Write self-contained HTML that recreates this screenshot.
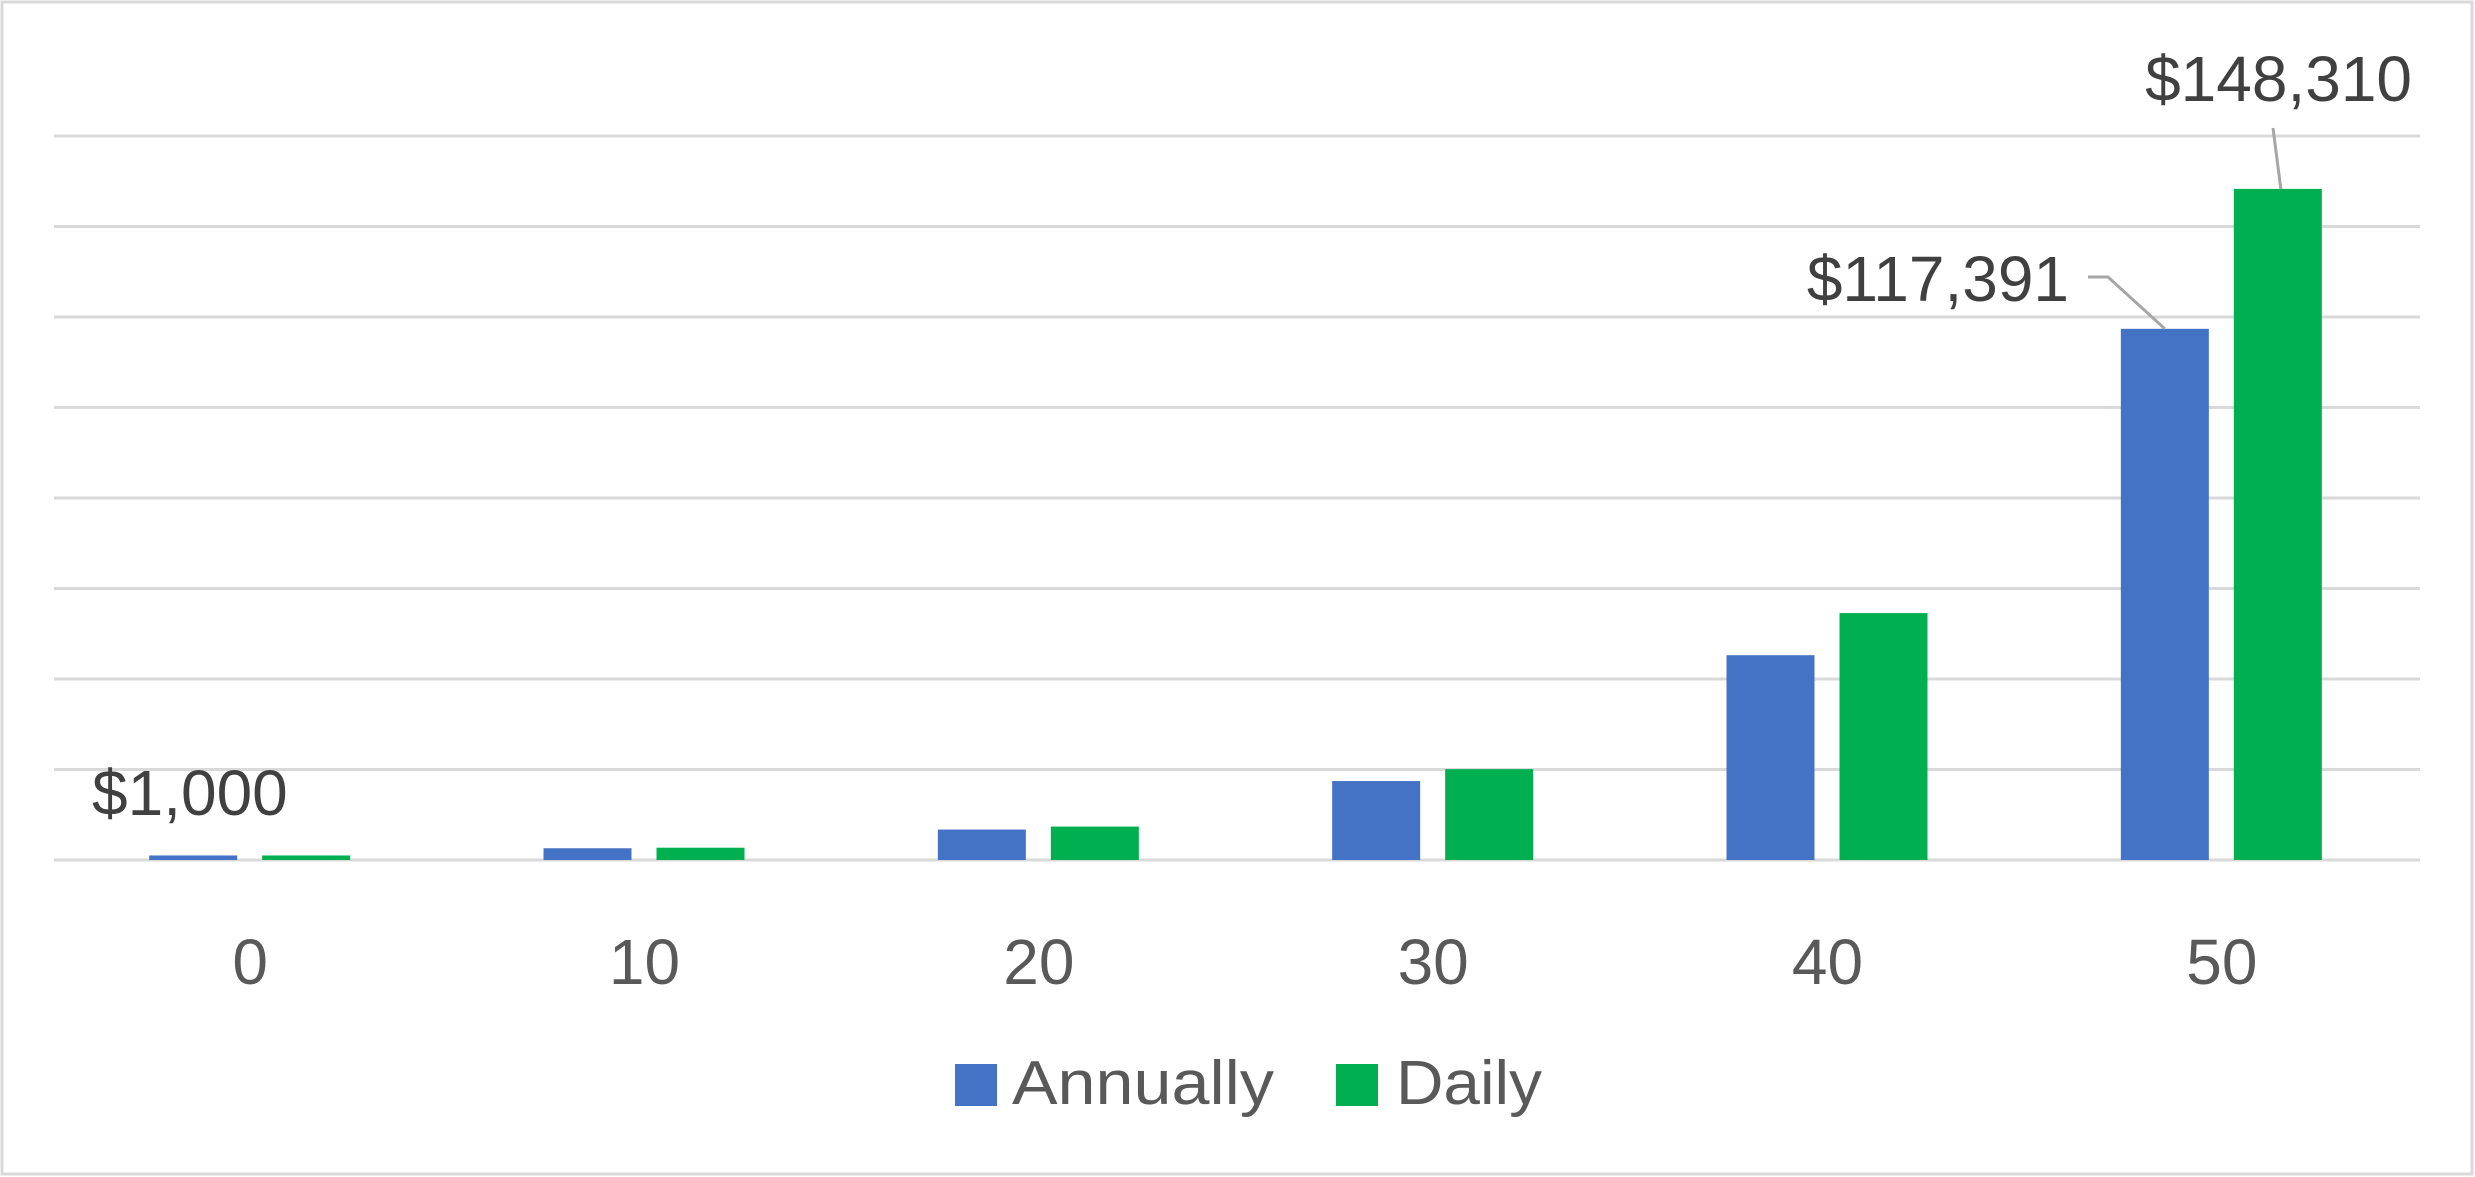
<!DOCTYPE html>
<html><head><meta charset="utf-8"><style>
html,body{margin:0;padding:0;background:#fff;}
svg{display:block;font-family:"Liberation Sans",sans-serif;}
</style></head><body>
<svg id="chart" width="2475" height="1177" viewBox="0 0 2475 1177" xmlns="http://www.w3.org/2000/svg">
<rect x="2" y="2" width="2470" height="1172" fill="#fff" stroke="#d9d9d9" stroke-width="3"/>
<g id="grid"></g><g id="bars"></g><g id="labels"></g>
<g>
<rect x="955" y="1064" width="42" height="42" fill="#4472C4"/>
<text x="1012" y="1104" font-size="62" fill="#595959" textLength="262" lengthAdjust="spacingAndGlyphs">Annually</text>
<rect x="1336" y="1064" width="42" height="42" fill="#00B050"/>
<text x="1396" y="1104" font-size="62" fill="#595959" textLength="146" lengthAdjust="spacingAndGlyphs">Daily</text>
</g>
</svg>
<script>
const categories = ["0","10","20","30","40","50"];
const annually = [1000, 2594, 6727, 17449, 45259, 117391];
const daily = [1000, 2718, 7387, 20077, 54568, 148310];
const yTicks = [0,20000,40000,60000,80000,100000,120000,140000,160000];

const NS="http://www.w3.org/2000/svg";
const left=54, right=2420, y0=860, yTop=136, yMax=160000;
const y=v=>y0-(v/yMax)*(y0-yTop);
const band=(right-left)/categories.length;
const xc=i=>left+band*(i+0.5)-1;
const bw=88;
function mk(tag,attrs,parent){const e=document.createElementNS(NS,tag);for(const k in attrs)e.setAttribute(k,attrs[k]);parent.appendChild(e);return e;}
const grid=document.getElementById('grid'),bars=document.getElementById('bars'),labels=document.getElementById('labels');
yTicks.forEach(t=>{
  const l=mk('line',{x1:left,x2:right,y1:y(t),y2:y(t),stroke:'#d9d9d9','stroke-width':3},grid);
  
  
});
categories.forEach((c,i)=>{
  const a=mk('rect',{x:xc(i)-57-bw/2,y:y(annually[i]),width:bw,height:y0-y(annually[i]),fill:'#4472C4'},bars);
  
  
  const d=mk('rect',{x:xc(i)+56-bw/2,y:y(daily[i]),width:bw,height:y0-y(daily[i]),fill:'#00B050'},bars);
  
  
  const t=mk('text',{x:xc(i),y:984,'font-size':64,fill:'#595959','text-anchor':'middle'},labels);
  t.textContent=c;
  
  
});
const fmt=v=>'$'+v.toLocaleString('en-US');
// data labels
const l0=mk('text',{x:92,y:815,'font-size':64,fill:'#404040'},labels);
l0.textContent=fmt(annually[0]);


const n=categories.length-1;
const la=mk('text',{x:2069,y:301,'font-size':64,fill:'#404040','text-anchor':'end'},labels);
la.textContent=fmt(annually[n]);


const ld=mk('text',{x:2412,y:101,'font-size':64,fill:'#404040','text-anchor':'end'},labels);
ld.textContent=fmt(daily[n]);


const p1=mk('polyline',{points:`2088,277 2108,277 ${xc(n)-57},${y(annually[n])}`,fill:'none',stroke:'#a6a6a6','stroke-width':3},labels);


const p2=mk('polyline',{points:`2273,128 ${xc(n)+59},${y(daily[n])}`,fill:'none',stroke:'#a6a6a6','stroke-width':3},labels);


</script>
</body></html>
